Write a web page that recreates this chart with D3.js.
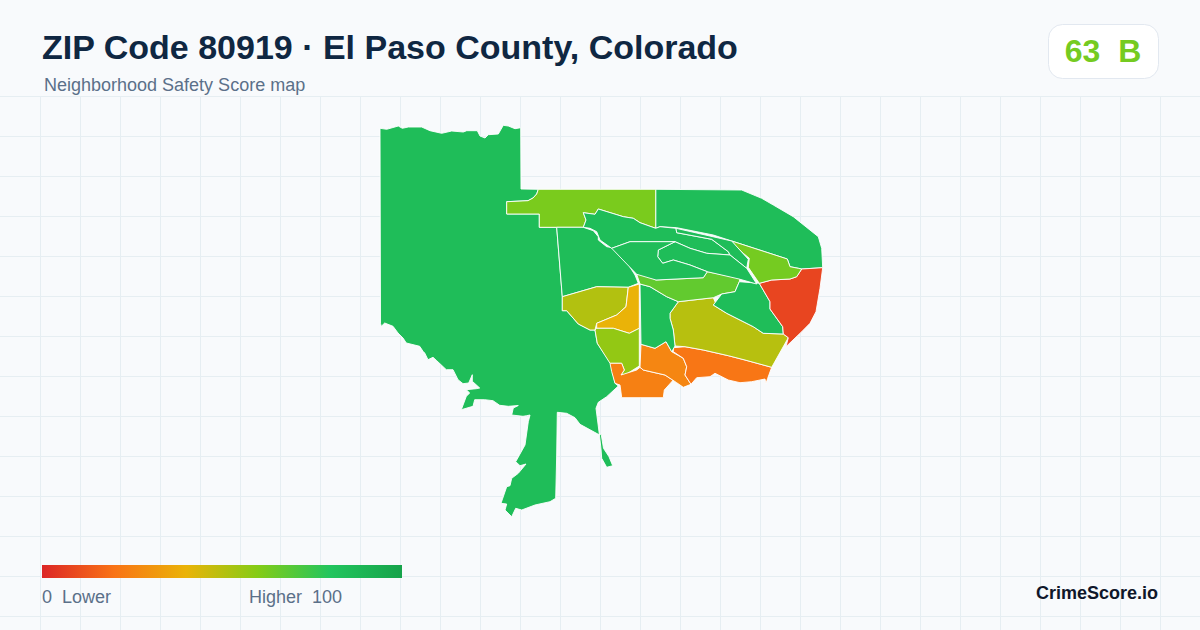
<!DOCTYPE html>
<html>
<head>
<meta charset="utf-8">
<script src="https://cdn.jsdelivr.net/npm/d3@7"></script>
<style>
  html, body { margin: 0; padding: 0; background: #f8fafc; }
  svg { display: block; font-family: "Liberation Sans", Arial, sans-serif; }
  text { white-space: pre; }
</style>
</head>
<body>
<svg id="chart" width="1200" height="630"></svg>
<script>
// score per area in the map
var regionNames = ["west", "northeast", "northLime", "westCenter", "westOlive", "amber", "southLime", "swOrange",
    "centerOrange", "seOrange", "bigOlive", "centerSouth", "band", "east", "red", "eastLime", "north", "strip", "blob", "surround"];
var regionScores = [85, 85, 62, 85, 51, 40, 57, 24, 26, 21, 50, 85, 67, 85, 8, 63, 85, 85, 85, 85];

// outlines in map units
var west = [[380,128.3],[386.7,129.3],[398.3,126],[402.3,128.3],[408.3,127],[421.7,127],[430,130.7],[441.7,133.3],[451.7,131],[463.3,132],[466.7,130.7],[477.3,130.7],[480,136],[485,138],[488.3,134.7],[498.3,134],[503.3,125.3],[508.3,126],[515,128.7],[520.7,127.7],[521,189],[538.3,189.3],[536.7,194],[533,198],[528,200.7],[506.7,201.7],[506.7,214],[539.3,214],[539.3,227.3],[556.7,227.3],[562.3,296.7],[562.3,310.7],[566.7,310.7],[578.3,324],[590,330],[595,330],[597.3,343.3],[610.7,363.3],[615,383.3],[618.3,386],[606.7,396.7],[598.3,402.3],[596,408.3],[597.5,420],[599.3,434],[601,449],[601.7,458.3],[606.7,467.3],[612.7,465.7],[609,456.7],[603.5,448.3],[601.2,434.3],[598.3,434.3],[580,424.3],[575,417.7],[566.7,413.3],[557.3,412.3],[556.7,455],[555.7,498.3],[550,501.7],[535,505],[521.7,510],[515.7,508.3],[511.7,516.7],[505,510],[506.7,504],[501,503.3],[506.7,486.7],[510,485.7],[511.7,478.3],[518.3,473.3],[526,464],[520,465.7],[515.7,461.7],[525,445],[528.3,421.7],[530,415],[526.7,415.7],[523,416.3],[511.7,415],[513.3,408],[518.3,405.5],[508.3,406.3],[499.7,405.3],[493,400.7],[484.7,399.7],[474.7,399.7],[473,406.3],[461.3,409.7],[466.3,396.3],[469.7,393],[466.3,389.7],[476.3,388.7],[479.7,388],[472.3,381.3],[472.3,374.7],[468.7,383],[463,383.7],[458,379.7],[453,369.7],[446.3,369.7],[436.3,360.3],[433,357.3],[428,359.7],[424.7,353],[423,351.3],[419.7,346.3],[406.3,343],[403,338],[398,333],[393,326.3],[384.7,323],[381.3,326.3],[380.5,323.3]];
var northeast = [[655.7,189.3],[741.7,190],[761.7,198.3],[773.3,205],[793.3,216.7],[818.3,236.7],[821.7,248.3],[822.7,267.7],[801.7,269],[798.3,268.3],[790,266.7],[787.3,259],[731.7,241],[713.3,235],[676.7,227.7],[660,226.7],[655.7,228.3]];
var northLime = [[538.3,189.3],[655.7,189.3],[655.7,228.3],[640,222.7],[633.3,218.3],[623.3,216.7],[598.3,209],[595,214.3],[583.3,212.7],[586,220],[583.3,227.3],[539.3,227.3],[539.3,214],[506.7,214],[506.7,201.7],[528,200.7],[533,198],[536.7,194]];
var westCenter = [[556.7,227.3],[583.3,227.3],[593.3,230.7],[598.3,236.7],[598.3,240],[606.7,246.7],[612.7,247.7],[625,259.3],[635,275],[638.3,283.3],[628.3,287.3],[596.7,286.7],[562.3,296.7]];
var westOlive = [[562.3,296.7],[596.7,286.7],[628.3,287.3],[626,306.7],[616.7,315],[596.7,323.3],[595,330],[590,330],[578.3,324],[566.7,310.7],[562.3,310.7]];
var amber = [[628.3,287.3],[639.3,284],[639.3,328.3],[629.3,333.3],[613.3,328.3],[596.7,328.3],[596.7,323.3],[616.7,315],[626,306.7]];
var southLime = [[596.7,328.3],[613.3,328.3],[629.3,333.3],[639.3,328.3],[639.3,366],[625,375],[621,375],[624.3,370],[621.7,363.3],[610,363.3],[597.3,343.3],[595,330]];
var swOrange = [[610,363.3],[621.7,363.3],[624.3,370],[621,375],[636.7,370],[640,367.3],[643.3,370],[665,375],[676.7,382.7],[673.3,380],[664.3,390],[663.3,397.7],[621.7,397.7],[620,385],[615,383.3],[611.7,371.7]];
var centerOrange = [[641,344.3],[655,348.3],[666,341.7],[671.7,351.7],[683.3,358.3],[686.7,366.7],[685,375],[691,384.3],[683.3,387.3],[676.7,382.7],[665,375],[643.3,370],[640,367.3]];
var seOrange = [[673.3,351.7],[673.3,347.7],[685,346.7],[703.3,350],[728.3,355.7],[745,360],[771.7,367.3],[767.7,378.3],[766,383.3],[765,379],[751.7,381.7],[740,382.7],[728.3,380],[715,373.3],[710,376.7],[696.7,377.7],[691,384.3],[685,375],[686.7,366.7],[683.3,358.3]];
var bigOlive = [[670,313.3],[678.3,301.7],[713.3,297.7],[716,304],[713.3,305],[726.7,313.3],[740,320],[753.3,326.7],[763.3,333.3],[783.3,334],[788.3,337.7],[771.7,367.3],[745,360],[728.3,355.7],[703.3,350],[685,346.7],[675,346],[673.3,330],[670,318.3]];
var centerSouth = [[640,284],[650,286.7],[666.7,296.7],[678.3,301.7],[670,313.3],[670,318.3],[673.3,330],[675,346],[671.7,351.7],[666,341.7],[655,348.3],[641,344.3]];
var band = [[636.7,274.3],[643.3,274],[656,280],[703.3,277.7],[707.3,271.7],[740,278.3],[739.3,281.7],[735,291.7],[721.7,294],[713.3,297.7],[678.3,301.7],[666.7,296.7],[650,286.7],[640,284]];
var east = [[713.3,305],[721.7,294],[735,291.7],[739.3,281.7],[759.3,283.3],[770,301.7],[770,309],[782.7,326.7],[783.3,334],[763.3,333.3],[753.3,326.7],[740,320],[726.7,313.3]];
var red = [[759.3,283.3],[771.7,280],[790,279],[796.7,276.7],[801.7,269],[822.7,267.7],[820,288.3],[816,311.7],[810,323.3],[801.7,331.7],[786,346.7],[788.3,337.7],[783.3,334],[782.7,326.7],[770,309],[770,301.7]];
var eastLime = [[731.7,241],[787.3,259],[790,266.7],[798.3,268.3],[801.7,269],[796.7,276.7],[790,279],[771.7,280],[759.3,283.3],[748.3,267.3],[749.3,258.3],[743.3,253.3],[735,245]];
var north = [[583.3,212.7],[595,214.3],[598.3,209],[623.3,216.7],[633.3,218.3],[640,222.7],[655.7,228.3],[660,226.7],[676,228.3],[676.7,232.7],[711.7,239.3],[728.3,251.7],[730,255],[706.7,253.3],[690,248.3],[675,241.7],[630,241.7],[611.7,248.3],[600,240],[596.7,231.7],[590,228.3],[583.3,227.3],[586,220]];
var strip = [[676,228.3],[731.7,241],[748.3,259.3],[746.7,268.3],[730,255],[728.3,251.7],[711.7,239.3],[676.7,232.7]];
var blob = [[675,241.7],[690,248.3],[706.7,253.3],[730,255],[746.7,268.3],[756.7,284],[739,279],[707.3,271.7],[690,265],[673.3,260],[662.7,263.3],[657.7,256.7],[658.3,250]];
var surround = [[611.7,248.3],[630,241.7],[675,241.7],[658.3,250],[657.7,256.7],[662.7,263.3],[673.3,260],[690,265],[707.3,271.7],[703.3,277.7],[656,280],[636.7,274.3]];
var regionRings = [west, northeast, northLime, westCenter, westOlive, amber, southLime, swOrange,
    centerOrange, seOrange, bigOlive, centerSouth, band, east, red, eastLime, north, strip, blob, surround];

// colour ramp
var rampStops = [0, 20, 40, 60, 80, 100];
var rampColors = ["#dc2626", "#f97316", "#eab308", "#84cc16", "#22c55e", "#16a34a"];

var overallScore = 63;
var overallGrade = "B";
var titleText = "ZIP Code 80919 · El Paso County, Colorado";
var subtitleText = "Neighborhood Safety Score map";

var svg = d3.select("#chart");
var color = d3.scaleLinear().domain(rampStops).range(rampColors);

// background and grid
svg.append("rect").attr("width", 1200).attr("height", 630).attr("fill", "#f8fafc");

var gridX = d3.range(40.5, 1200, 40);
var gridY = d3.range(96.5, 630, 40);
svg.selectAll("line.gx").data(gridX).enter().append("line")
    .attr("class", "gx")
    .attr("x1", d => d).attr("x2", d => d)
    .attr("y1", 96).attr("y2", 630)
    .attr("stroke", "#e6eef2");
svg.selectAll("line.gy").data(gridY).enter().append("line")
    .attr("class", "gy")
    .attr("x1", 0).attr("x2", 1200)
    .attr("y1", d => d).attr("y2", d => d)
    .attr("stroke", "#e6eef2");

// map
var x = d3.scaleLinear().domain([380, 823]).range([380, 823]);
var y = d3.scaleLinear().domain([125, 517]).range([125, 517]);
var outline = d3.line().x(d => x(d[0])).y(d => y(d[1])).curve(d3.curveLinearClosed);

svg.append("g").selectAll("path").data(regionRings).enter().append("path")
    .attr("d", outline)
    .attr("fill", (d, i) => color(regionScores[i]))
    .attr("stroke", "#ffffff")
    .attr("stroke-width", 0.9)
    .attr("stroke-linejoin", "round")
    .append("title").text((d, i) => regionNames[i]);

// header
svg.append("text").attr("x", 42).attr("y", 59)
    .attr("font-size", 34).attr("font-weight", "bold").attr("fill", "#0f2742")
    .text(titleText);
svg.append("text").attr("x", 44).attr("y", 91)
    .attr("font-size", 18).attr("fill", "#5b7089")
    .text(subtitleText);

// score badge
svg.append("rect").attr("x", 1048.5).attr("y", 24.5).attr("width", 110).attr("height", 54).attr("rx", 14)
    .attr("fill", "#ffffff").attr("stroke", "#e2e8f0");
svg.append("text").attr("x", 1103).attr("y", 62).attr("text-anchor", "middle")
    .attr("font-size", 32).attr("font-weight", "bold").attr("fill", color(overallScore))
    .text(overallScore + "  " + overallGrade);

// legend
var defs = svg.append("defs");
var grad = defs.append("linearGradient").attr("id", "ramp");
grad.selectAll("stop").data(rampStops).enter().append("stop")
    .attr("offset", d => d + "%")
    .attr("stop-color", d => color(d));
svg.append("rect").attr("x", 42).attr("y", 565).attr("width", 360).attr("height", 13).attr("fill", "url(#ramp)");
svg.append("text").attr("x", 42).attr("y", 603).attr("font-size", 18).attr("fill", "#5b7089").text("0  Lower");
svg.append("text").attr("x", 342).attr("y", 603).attr("text-anchor", "end").attr("font-size", 18).attr("fill", "#5b7089").text("Higher  100");

svg.append("text").attr("x", 1158).attr("y", 599).attr("text-anchor", "end")
    .attr("font-size", 18).attr("font-weight", "bold").attr("fill", "#0f172a").text("CrimeScore.io");
</script>
</body>
</html>
